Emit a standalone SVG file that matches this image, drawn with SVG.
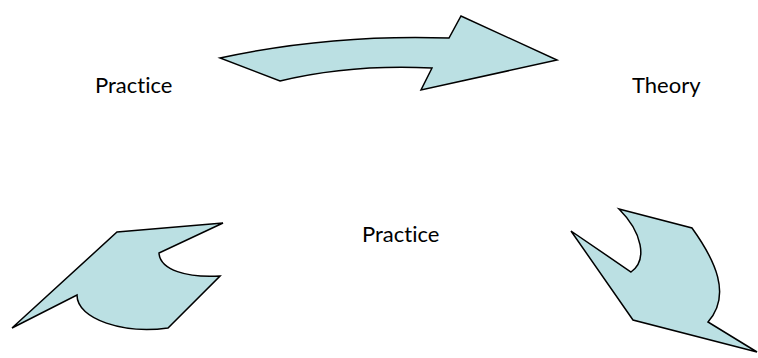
<svg xmlns="http://www.w3.org/2000/svg" width="758" height="358" viewBox="0 0 758 358">
<style>
.arrow{fill:#BBE0E3;stroke:#000;stroke-width:1.5;stroke-linejoin:miter}
.lbl{font-family:Lato,"Open Sans",sans-serif;font-size:22px;fill:#000;font-variant-ligatures:none;font-feature-settings:"liga" 0}
</style>
<rect width="758" height="358" fill="#fff"/>
<g id="connectors">
<path class="arrow" d="M220,58 Q330,34 449,38 L461,16 L557,60 L421,90 L432,68 Q350,64 280,81 Z"/>
<path class="arrow" d="M117,232 L223,223 L159,253 C160,270 187,278 220,276 L168,328 C125,334 77,320 77,295 L12,328 Z"/>
<path class="arrow" d="M619,209 L692,228 C715,260 732,295 708,322 L757,352 L633,320 L571,231 L631,272 C648,260 642,232 619,209 Z"/>
</g>
<g id="practice1"><text class="lbl" x="95" y="93">Practice</text></g>
<g id="theory"><text class="lbl" x="632" y="93">Theory</text></g>
<g id="practice2"><text class="lbl" x="362" y="242">Practice</text></g>
</svg>
